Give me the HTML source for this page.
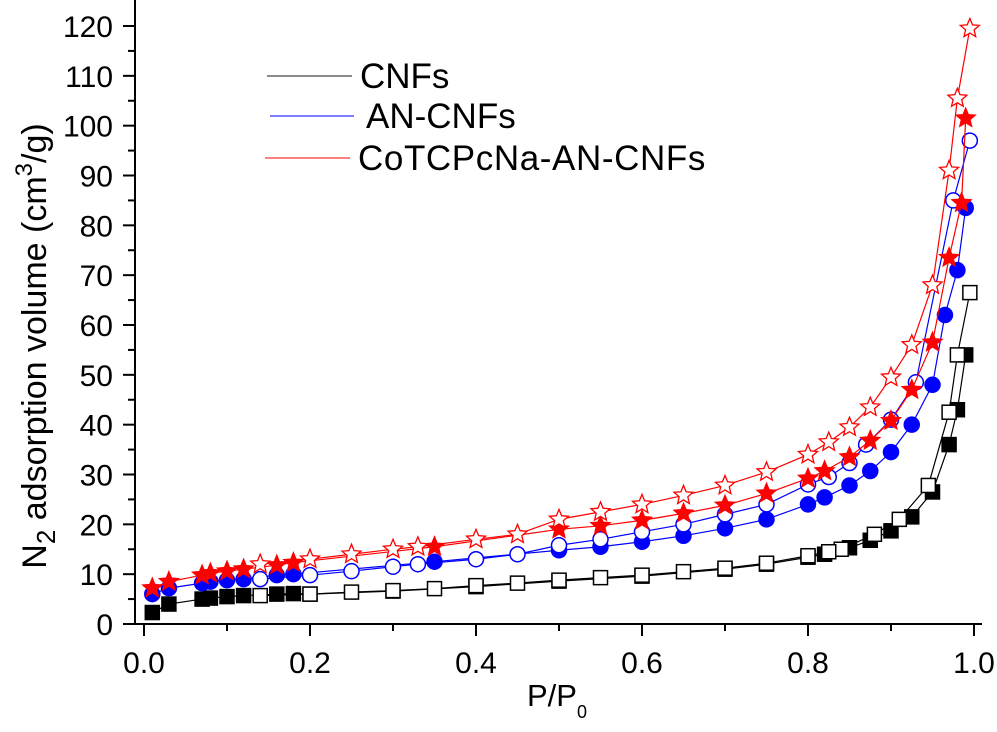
<!DOCTYPE html>
<html><head><meta charset="utf-8"><style>
html,body{margin:0;padding:0;background:#fff;}
svg{display:block;font-family:"Liberation Sans",Arial,sans-serif;}
</style></head><body>
<svg id="chart" width="997" height="732" viewBox="0 0 997 732" xmlns="http://www.w3.org/2000/svg">
<g id="axes"></g>
<g id="series"></g>
<g id="legend">
  <line x1="267" y1="76" x2="352" y2="76" stroke="#444" stroke-width="1.3"/>
  <text x="360" y="88" font-size="35">CNFs</text>
  <line x1="270" y1="116" x2="354" y2="116" stroke="#3333ff" stroke-width="1.3"/>
  <text x="366" y="128" font-size="35">AN-CNFs</text>
  <line x1="265" y1="158" x2="350" y2="158" stroke="#ff3333" stroke-width="1.3"/>
  <text x="358" y="170" font-size="35" letter-spacing="0.6">CoTCPcNa-AN-CNFs</text>
</g>
<text transform="translate(46,346) rotate(-90)" text-anchor="middle" font-size="34">N<tspan font-size="26" dy="9">2</tspan><tspan dy="-9"> adsorption volume (cm</tspan><tspan font-size="24" dy="-14">3</tspan><tspan dy="14">/g)</tspan></text>
<text x="527" y="706" font-size="31">P/P<tspan font-size="18" dy="12">0</tspan></text>
</svg>
<script>
const xTicks=[0,0.2,0.4,0.6,0.8,1.0];
const xTickLabels=["0.0","0.2","0.4","0.6","0.8","1.0"];
const yTicks=[0,10,20,30,40,50,60,70,80,90,100,110,120];
const cnfAdsX=[0.01,0.03,0.07,0.08,0.1,0.12,0.16,0.18,0.2,0.3,0.4,0.5,0.6,0.7,0.75,0.8,0.82,0.85,0.875,0.9,0.925,0.95,0.97,0.98,0.99];
const cnfAdsY=[2.3,4,5,5.2,5.5,5.7,6,6.1,6.0,6.6,7.5,8.6,9.6,11,12,13.4,14,15.3,16.8,18.7,21.5,26.5,36,43,54];
const cnfDesX=[0.995,0.98,0.97,0.945,0.91,0.88,0.84,0.825,0.8,0.75,0.7,0.65,0.6,0.55,0.5,0.45,0.4,0.35,0.3,0.25,0.2,0.14];
const cnfDesY=[66.5,54,42.5,27.8,21,18,15,14.5,13.7,12.2,11.2,10.5,9.8,9.3,8.8,8.2,7.7,7.1,6.7,6.4,6.0,5.7];
const anAdsX=[0.01,0.03,0.07,0.08,0.1,0.12,0.16,0.18,0.35,0.5,0.55,0.6,0.65,0.7,0.75,0.8,0.82,0.85,0.875,0.9,0.925,0.95,0.965,0.98,0.99];
const anAdsY=[6,7.2,8.2,8.5,8.8,9,9.8,10,12.5,14.8,15.5,16.5,17.7,19.2,21,24,25.4,27.8,30.7,34.5,40,48,62,71,83.5];
const anDesX=[0.995,0.975,0.93,0.9,0.87,0.85,0.825,0.8,0.75,0.7,0.65,0.6,0.55,0.5,0.45,0.4,0.33,0.3,0.25,0.2,0.14];
const anDesY=[97,85,48.5,41,36,32.3,29.5,28,24,22,20,18.5,17,15.8,14,13,12,11.5,10.6,9.8,9];
const coAdsX=[0.01,0.03,0.07,0.08,0.1,0.12,0.16,0.18,0.35,0.5,0.55,0.6,0.65,0.7,0.75,0.8,0.82,0.85,0.875,0.9,0.925,0.95,0.97,0.985,0.99];
const coAdsY=[7.2,8.5,9.8,10.2,10.6,11,11.8,12.3,15.5,19,19.7,20.8,22.2,23.8,26.2,29.2,30.7,33.5,36.8,40.8,47,56.5,73.5,84.5,101.5];
const coDesX=[0.995,0.98,0.97,0.95,0.925,0.9,0.875,0.85,0.825,0.8,0.75,0.7,0.65,0.6,0.55,0.5,0.45,0.4,0.33,0.3,0.25,0.2,0.14];
const coDesY=[119.5,105.5,91,68,56,49.5,43.5,39.5,36.5,34,30.5,27.8,25.8,24,22.5,21,18,17,15.5,15,14,13,12];

const NS="http://www.w3.org/2000/svg";
const X0=144,X1=974,Y0=624,Y120=26;
function sx(v){return X0+(X1-X0)*v;}
function sy(v){return Y0+(Y120-Y0)*v/120;}
function mk(tag,attrs,parent){const e=document.createElementNS(NS,tag);for(const k in attrs)e.setAttribute(k,attrs[k]);parent.appendChild(e);return e;}
const axes=document.getElementById('axes');
let l=mk('line',{x1:135,y1:0,x2:135,y2:Y0,stroke:'#000','stroke-width':2},axes);


l=mk('line',{x1:135,y1:Y0,x2:982,y2:Y0,stroke:'#000','stroke-width':2},axes);


xTicks.forEach((v,i)=>{
  const t=mk('line',{x1:sx(v),y1:Y0,x2:sx(v),y2:Y0+12,stroke:'#000','stroke-width':2},axes);
  
  
  const tx=mk('text',{x:sx(v),y:673,'font-size':30,'text-anchor':'middle'},axes);
  tx.textContent=xTickLabels[i];
  
  
  if(i<xTicks.length-1){
    const m=mk('line',{x1:sx(v+0.1),y1:Y0,x2:sx(v+0.1),y2:Y0+7,stroke:'#000','stroke-width':2},axes);
    
    
  }
});
yTicks.forEach((v,i)=>{
  const t=mk('line',{x1:123,y1:sy(v),x2:135,y2:sy(v),stroke:'#000','stroke-width':2},axes);
  
  
  const tx=mk('text',{x:113,y:sy(v)+11,'font-size':30,'text-anchor':'end'},axes);
  tx.textContent=String(v);
  
  
  if(i<yTicks.length-1){
    const m=mk('line',{x1:128,y1:sy(v+5),x2:135,y2:sy(v+5),stroke:'#000','stroke-width':2},axes);
    
    
  }
});
const ser=document.getElementById('series');
function star(cx,cy,r){let p=[];for(let k=0;k<10;k++){const a=-Math.PI/2+k*Math.PI/5;const rr=k%2?r*0.45:r;p.push((cx+rr*Math.cos(a)).toFixed(1)+','+(cy+rr*Math.sin(a)).toFixed(1));}return p.join(' ');}
function draw(xs,ys,color,shape,filled,name){
  const g=mk('g',{},ser);
  
  
  const pts=xs.map((x,i)=>sx(x)+','+sy(ys[i])).join(' ');
  const pl=mk('polyline',{points:pts,fill:'none',stroke:color,'stroke-width':1.2},g);
  
  
  xs.forEach((x,i)=>{
    const cx=sx(x),cy=sy(ys[i]);let m;
    const fill=filled?color:'#fff';
    if(shape==='sq')m=mk('rect',{x:cx-7,y:cy-7,width:14,height:14,fill:fill,stroke:color,'stroke-width':1.5},g);
    else if(shape==='c')m=mk('circle',{cx:cx,cy:cy,r:7.5,fill:fill,stroke:color,'stroke-width':1.5},g);
    else m=mk('polygon',{points:star(cx,cy,10),fill:fill,stroke:color,'stroke-width':1.3},g);
    
    
  });
}
draw(cnfAdsX,cnfAdsY,'#000','sq',true,'cnfs-adsorption');
draw(cnfDesX,cnfDesY,'#000','sq',false,'cnfs-desorption');
draw(anAdsX,anAdsY,'#0000ff','c',true,'an-cnfs-adsorption');
draw(anDesX,anDesY,'#0000ff','c',false,'an-cnfs-desorption');
draw(coAdsX,coAdsY,'#ff0000','st',true,'cotcpcna-adsorption');
draw(coDesX,coDesY,'#ff0000','st',false,'cotcpcna-desorption');
</script>
</body></html>
